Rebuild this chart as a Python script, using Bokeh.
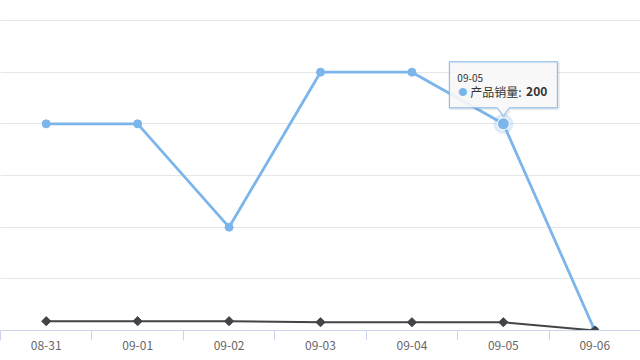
import math
from bokeh.plotting import figure
from bokeh.models import Range1d, FixedTicker, LinearAxis
from bokeh.core.properties import value
from bokeh.embed import file_html
from bokeh.resources import INLINE

# ---- data ----
categories = ["08-31", "09-01", "09-02", "09-03", "09-04", "09-05", "09-06"]
sales = [200, 200, 100, 250, 250, 200, 0]
second = [9, 9, 9, 8, 8, 8, 0]
y_ticks = [0, 50, 100, 150, 200, 250, 300]
series_name = "产品销量"
hover_index = 5

FONT = "Noto Sans CJK SC"
BLUE = "#7cb5ec"
DARK = "#434348"

xs = list(range(len(categories)))
x_start, x_end = -0.5, len(categories) - 0.5
y_top = 300 + 20 * 300 / 310

p = figure(frame_width=640, frame_height=330, output_backend="svg",
           toolbar_location=None, x_range=Range1d(x_start, x_end),
           y_range=Range1d(0, y_top), x_axis_location=None, y_axis_location=None,
           min_border_left=0, min_border_right=0, min_border_top=0,
           min_border_bottom=30)
p.outline_line_color = None
p.background_fill_color = "white"
p.border_fill_color = "white"

# x axis
ax = LinearAxis(ticker=FixedTicker(ticks=xs, minor_ticks=[i - 0.5 for i in range(len(categories) + 1)]))
ax.major_label_overrides = {i: c for i, c in enumerate(categories)}
ax.axis_line_color = "#ccd6eb"
ax.major_tick_line_color = None
ax.major_tick_out = 0
ax.major_tick_in = 0
ax.minor_tick_line_color = "#ccd6eb"
ax.minor_tick_out = 10
ax.minor_tick_in = 0
ax.major_label_standoff = 0
ax.major_label_text_font = FONT
ax.major_label_text_font_size = "12px"
ax.major_label_text_color = "#666666"
p.add_layout(ax, "below")

# grid
p.xgrid.visible = False
p.ygrid.ticker = FixedTicker(ticks=y_ticks)
p.ygrid.grid_line_color = "#e6e6e6"

# series
p.line(xs, sales, line_color=BLUE, line_width=2.8, line_join="round")
p.scatter(xs, sales, marker="circle", size=8, fill_color=BLUE, line_color=BLUE)
p.line(xs, second, line_color=DARK, line_width=2, line_join="round")
p.scatter(xs, second, marker="square", angle=math.pi / 4, size=6.5,
          fill_color=DARK, line_color=DARK)

# hovered point
hx, hy = xs[hover_index], sales[hover_index]
p.scatter([hx], [hy], marker="circle", size=20, fill_color=BLUE, fill_alpha=0.25, line_color=None)
p.scatter([hx], [hy], marker="circle", size=12, fill_color=BLUE, line_color="white", line_width=1)

# tooltip (pixel-based offsets converted to data units)
px_x = (x_end - x_start) / 640
px_y = y_top / 330
left, right = hx - 54 * px_x, hx + 54 * px_x
bottom, top = hy + 16 * px_y, hy + 62 * px_y
tip = hy + 8 * px_y
bx = [left, right, right, hx + 6 * px_x, hx, hx - 6 * px_x, left]
by = [top, top, bottom, bottom, tip, bottom, bottom]
sh_x = [v + 1 * px_x for v in bx]
sh_y = [v - 1 * px_y for v in by]
p.patch(sh_x, sh_y, fill_color=None, line_color="black", line_alpha=0.08, line_width=3)
p.patch(bx, by, fill_color="#f7f7f7", fill_alpha=0.9, line_color=BLUE, line_width=1)

p.text([left + 8 * px_x], [hy + 46 * px_y], text=[categories[hover_index]],
       text_font=value(FONT), text_font_size="10px", text_color="#333333",
       text_baseline="middle", text_align="left")
p.text([left + 9 * px_x], [hy + 32 * px_y], text=["●"],
       text_font=value(FONT), text_font_size="9px", text_color=BLUE,
       text_baseline="middle", text_align="left")
p.text([left + 21 * px_x], [hy + 32 * px_y], text=[series_name + ": "],
       text_font=value(FONT), text_font_size="12px", text_color="#333333",
       text_baseline="middle", text_align="left")
p.text([left + 98 * px_x], [hy + 32 * px_y], text=[str(sales[hover_index])],
       text_font=value(FONT), text_font_size="12px", text_color="#333333",
       text_font_style="bold", text_baseline="middle", text_align="right")

open("out.html", "w").write(file_html(p, INLINE))
